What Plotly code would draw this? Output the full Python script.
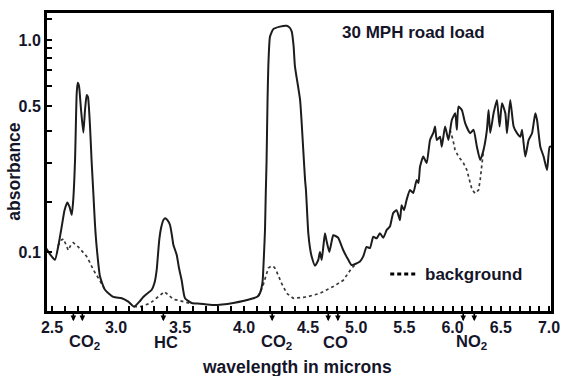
import numpy as np
import plotly.graph_objects as go

# ---------------- data ----------------
# Sample spectrum, 30 MPH road load: wavelength (microns) and absorbance
sample_um = [2.453, 2.484, 2.523, 2.551, 2.576, 2.598, 2.620, 2.637, 2.654, 2.666,
             2.680, 2.693, 2.701, 2.711, 2.727, 2.745, 2.758, 2.771, 2.781, 2.797,
             2.809, 2.823, 2.836, 2.849, 2.875, 2.914, 2.979, 3.045, 3.096, 3.141,
             3.188, 3.213, 3.242, 3.279, 3.301, 3.318, 3.328, 3.338, 3.352, 3.370,
             3.383, 3.402, 3.422, 3.438, 3.448, 3.474, 3.492, 3.513, 3.539, 3.591,
             3.656, 3.760, 3.916, 4.073, 4.109, 4.125, 4.137, 4.146, 4.156, 4.164,
             4.170, 4.176, 4.184, 4.190, 4.203, 4.229, 4.281, 4.334, 4.355, 4.373,
             4.387, 4.398, 4.438, 4.463, 4.477, 4.484, 4.503, 4.521, 4.538, 4.573,
             4.607, 4.624, 4.642, 4.661, 4.676, 4.694, 4.721, 4.744, 4.762, 4.790,
             4.814, 4.866, 4.918, 4.953, 5.005, 5.039, 5.073, 5.108, 5.143, 5.177,
             5.212, 5.246, 5.281, 5.316, 5.350, 5.384, 5.419, 5.454, 5.471, 5.496,
             5.523, 5.558, 5.592, 5.627, 5.646, 5.662, 5.696, 5.731, 5.766, 5.800,
             5.818, 5.836, 5.870, 5.888, 5.922, 5.957, 5.992, 6.027, 6.044, 6.061,
             6.096, 6.131, 6.183, 6.217, 6.252, 6.286, 6.321, 6.356, 6.373, 6.390,
             6.425, 6.460, 6.487, 6.512, 6.547, 6.564, 6.598, 6.633, 6.668, 6.703,
             6.720, 6.754, 6.789, 6.824, 6.858, 6.876, 6.910, 6.944, 6.980, 7.007,
             7.035]
sample_abs = [0.108, 0.097, 0.087, 0.114, 0.149, 0.183, 0.200, 0.190, 0.173, 0.206,
              0.308, 0.562, 0.621, 0.602, 0.483, 0.395, 0.483, 0.553, 0.543, 0.417,
              0.308, 0.222, 0.152, 0.110, 0.059, 0.038, 0.027, 0.025, 0.020, 0.0126,
              0.021, 0.027, 0.032, 0.038, 0.049, 0.070, 0.096, 0.123, 0.146, 0.162,
              0.166, 0.162, 0.152, 0.130, 0.114, 0.096, 0.073, 0.053, 0.025, 0.018,
              0.017, 0.015, 0.018, 0.025, 0.028, 0.033, 0.041, 0.053, 0.096, 0.142,
              0.220, 0.300, 0.530, 0.730, 1.050, 1.190, 1.250, 1.270, 1.230, 1.140,
              0.930, 0.730, 0.530, 0.338, 0.254, 0.229, 0.136, 0.108, 0.093, 0.077,
              0.087, 0.101, 0.087, 0.114, 0.136, 0.120, 0.101, 0.119, 0.132, 0.130,
              0.127, 0.104, 0.087, 0.078, 0.081, 0.084, 0.093, 0.110, 0.108, 0.129,
              0.126, 0.136, 0.127, 0.142, 0.149, 0.177, 0.183, 0.162, 0.194, 0.183,
              0.206, 0.229, 0.222, 0.254, 0.246, 0.289, 0.318, 0.299, 0.370, 0.394,
              0.417, 0.370, 0.381, 0.348, 0.417, 0.370, 0.442, 0.469, 0.405, 0.498,
              0.483, 0.429, 0.393, 0.405, 0.348, 0.308, 0.338, 0.405, 0.483, 0.394,
              0.469, 0.529, 0.417, 0.513, 0.469, 0.393, 0.529, 0.417, 0.393, 0.381,
              0.405, 0.318, 0.370, 0.393, 0.469, 0.442, 0.348, 0.318, 0.280, 0.348,
              0.348]

# Background spectrum (None marks stretches where it lies under the sample trace)
background_um = [2.547, 2.574, 2.590, 2.609, 2.627, 2.648, 2.666, 2.705, 2.734, 2.771,
                 2.797, 2.823, 2.875, 2.906, 2.914, None,
                 3.141, 3.188, 3.266, 3.318, 3.344, 3.379, 3.409, 3.448, 3.500, 3.578,
                 3.591, None,
                 4.109, 4.125, 4.146, 4.168, 4.190, 4.216, 4.238, 4.255, 4.294, 4.334,
                 4.385, 4.490, 4.624, 4.762, 4.866, 4.953, 5.005, None,
                 5.973, 6.004, 6.025, 6.061, 6.113, 6.148, 6.183, 6.203, 6.235, 6.269,
                 6.286, 6.302, 6.321]
background_abs = [0.112, 0.123, 0.125, 0.114, 0.104, 0.114, 0.118, 0.110, 0.103, 0.093,
                  0.082, 0.070, 0.052, 0.041, 0.038, None,
                  0.0126, 0.0125, 0.0175, 0.025, 0.030, 0.035, 0.030, 0.0235, 0.0214, 0.0175,
                  0.018, None,
                  0.028, 0.033, 0.043, 0.060, 0.073, 0.0765, 0.074, 0.067, 0.048, 0.0325,
                  0.025, 0.027, 0.0325, 0.043, 0.053, 0.073, 0.081, None,
                  0.405, 0.370, 0.338, 0.318, 0.299, 0.280, 0.246, 0.229, 0.221, 0.229,
                  0.254, 0.294, 0.338]

# axis ticks
x_label_um = [2.5, 3.0, 3.5, 4.0, 4.5, 5.0, 5.5, 6.0, 6.5, 7.0]
x_minor_step_um = 0.1
y_label_abs = [1.0, 0.5, 0.1]
y_minor_abs = [1.5, 0.9, 0.8, 0.7, 0.6, 0.4, 0.3, 0.2]

# absorption band markers (arrows under the axis) and their labels
band_arrow_um = [2.667, 2.737, 3.37, 4.22, 4.71, 4.81, 6.11, 6.225]
band_label_text = ["CO<sub>2</sub>", "HC", "CO<sub>2</sub>", "CO", "NO<sub>2</sub>"]
band_label_um = [2.75, 3.39, 4.25, 4.79, 6.20]

# ---------------- scales ----------------
# The instrument chart changes its wavelength scale at 4.5 microns.
SCALE_UM = [2.5, 4.5, 7.0]
SCALE_POS = [0.0, 256.0, 497.0]


def xpos(um):
    if um is None:
        return None
    if um <= SCALE_UM[1]:
        k = (SCALE_POS[1] - SCALE_POS[0]) / (SCALE_UM[1] - SCALE_UM[0])
        return SCALE_POS[0] + (um - SCALE_UM[0]) * k
    k = (SCALE_POS[2] - SCALE_POS[1]) / (SCALE_UM[2] - SCALE_UM[1])
    return SCALE_POS[1] + (um - SCALE_UM[1]) * k


def ytrans(a):
    # ordinate is linear in transmittance, labelled in absorbance
    if a is None:
        return None
    return 10 ** (-a)


FONT = "Liberation Sans, Arial, sans-serif"
TXT = "#15152a"

fig = go.Figure()
fig.add_trace(go.Scatter(
    x=[xpos(v) for v in background_um], y=[ytrans(v) for v in background_abs],
    mode="lines", line=dict(color="#3a3a3a", width=1.7, dash="dot"),
    connectgaps=False, name="background"))
fig.add_trace(go.Scatter(
    x=[xpos(v) for v in sample_um], y=[ytrans(v) for v in sample_abs],
    mode="lines", line=dict(color="#1c1c1c", width=2, shape="spline", smoothing=0.5),
    name="30 MPH road load"))

# x ticks
n_minor = int(round((x_label_um[-1] - x_label_um[0]) / x_minor_step_um))
x_tick_um = [round(x_label_um[0] + i * x_minor_step_um, 2) for i in range(n_minor + 1)]
x_tickvals = [xpos(v) for v in x_tick_um]
x_ticktext = [f"{v:.1f}" if any(abs(v - m) < 1e-6 for m in x_label_um) else "" for v in x_tick_um]

y_all = sorted(y_label_abs + y_minor_abs, reverse=True)
y_tickvals = [ytrans(v) for v in y_all]
y_ticktext = [f"{v:.1f}" if v in y_label_abs else "" for v in y_all]

fig.update_xaxes(range=[-5, 499], tickmode="array", tickvals=x_tickvals, ticktext=x_ticktext,
                 ticks="inside", ticklen=5, tickwidth=1.5, tickcolor="black",
                 showline=True, linewidth=3, linecolor="black", mirror=True,
                 showgrid=False, zeroline=False, automargin=False,
                 tickfont=dict(family=FONT, size=16, color=TXT, weight="bold"))
fig.update_yaxes(range=[0.9856, 0.0118], tickmode="array", tickvals=y_tickvals, ticktext=y_ticktext,
                 ticks="inside", ticklen=5, tickwidth=1.5, tickcolor="black",
                 showline=True, linewidth=3, linecolor="black", mirror=True,
                 showgrid=False, zeroline=False, automargin=False,
                 tickfont=dict(family=FONT, size=16, color=TXT, weight="bold"))

annotations = []
for um in band_arrow_um:
    annotations.append(dict(x=xpos(um), xref="x", y=-0.034, yref="paper", text="",
                            showarrow=True, ax=0, ay=-10, arrowhead=2, arrowsize=0.7,
                            arrowwidth=1.6, arrowcolor="black", standoff=0))
for txt, um in zip(band_label_text, band_label_um):
    annotations.append(dict(x=xpos(um), xref="x", y=-0.105, yref="paper", text=f"<b>{txt}</b>",
                            showarrow=False, xanchor="center", yanchor="middle",
                            font=dict(family=FONT, size=16.5, color=TXT)))
annotations += [
    dict(x=0.497, xref="paper", y=-0.187, yref="paper", text="<b>wavelength in microns</b>",
         showarrow=False, xanchor="center", yanchor="middle",
         font=dict(family=FONT, size=17.5, color=TXT)),
    dict(x=-0.066, xref="paper", y=0.47, yref="paper", text="<b>absorbance</b>",
         showarrow=False, textangle=-90, xanchor="center", yanchor="middle",
         font=dict(family=FONT, size=17.5, color=TXT)),
    dict(x=0.728, xref="paper", y=0.933, yref="paper", text="<b>30 MPH road load</b>",
         showarrow=False, xanchor="center", yanchor="middle",
         font=dict(family=FONT, size=17, color=TXT)),
    dict(x=0.746, xref="paper", y=0.124, yref="paper", text="<b>background</b>",
         showarrow=False, xanchor="left", yanchor="middle",
         font=dict(family=FONT, size=17, color=TXT)),
]

fig.update_layout(
    width=563, height=376, margin=dict(l=47, r=12, t=13, b=65),
    plot_bgcolor="white", paper_bgcolor="white", showlegend=False,
    annotations=annotations,
    shapes=[dict(type="line", xref="paper", yref="paper", x0=0.681, x1=0.736, y0=0.124, y1=0.124,
                 line=dict(color="black", width=3, dash="4px,3px"))],
)

fig.write_html("out.html",
               config={"displayModeBar": False, "responsive": False},
               post_script="document.body.style.margin='0px';document.body.style.padding='0px';")
